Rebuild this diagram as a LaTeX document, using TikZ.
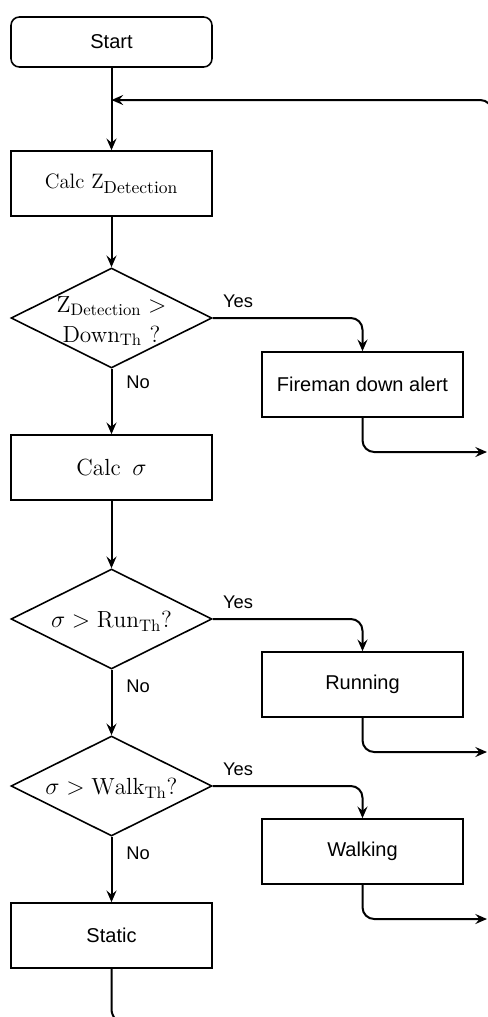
\documentclass[tikz,border=0pt]{standalone}
\usepackage{fontspec}
\newfontfamily\labelsans{Liberation Sans}
\usetikzlibrary{arrows.meta,shapes.geometric}
% larger subscripts for the formulas in the boxes
\DeclareMathSizes{14}{14}{10}{7}
\DeclareMathSizes{12.5}{12.5}{10.5}{7}
\begin{document}
\begin{tikzpicture}[x=0.6pt,y=-0.6pt,
  line/.style={line width=1.2pt},
  arr/.style={line, -{Stealth[length=7pt,width=6pt,inset=2.5pt]}, rounded corners=7pt},
  box/.style={draw, line width=0.95pt, minimum width=120.6pt, minimum height=39pt, inner sep=0pt},
  startbox/.style={box, rounded corners=5pt, minimum height=30pt},
  decision/.style={draw, line width=0.95pt, diamond, minimum width=120.6pt, minimum height=60pt, inner sep=0pt},
  sanstext/.style={font=\labelsans\fontsize{12}{14}\selectfont},
  mathbig/.style={font=\fontsize{14}{18}\selectfont, inner sep=0pt},
  mathsmall/.style={font=\fontsize{12.5}{14}\selectfont},
  edgelabel/.style={font=\labelsans\fontsize{11}{13}\selectfont, inner sep=0pt}]
\useasboundingbox (0,0) rectangle (488,1017);
\clip (0,0) rectangle (488,1017);

% main column
\node[startbox, sanstext] (start) at (111.5,42) {Start};
\node[box, mathsmall] (calcz) at (111.5,183.5) {Calc Z$_{\mathrm{Detection}}$};
\node[decision] (d1) at (111.5,318) {};
\node[mathbig, align=center] (d1t) at (111.5,321) {$\mathrm{Z_{Detection}} >$\\Down$_{\mathrm{Th}}$ ?};
\node[box, mathbig] (calcs) at (111.5,467.5) {Calc\ \,$\sigma$};
\node[decision] (d2) at (111.5,619) {};
\node[mathbig] (d2t) at (111.5,621) {$\sigma > \mathrm{Run_{Th}}$?};
\node[decision] (d3) at (111.5,786) {};
\node[mathbig] (d3t) at (111.5,788) {$\sigma > \mathrm{Walk_{Th}}$?};
\node[box, sanstext] (static) at (111.5,935.5) {Static};

% right column
\node[box, sanstext] (fire) at (362.5,384.5) {Fireman down alert};
\node[box, sanstext] (run) at (362.5,684.5) {Running};
\node[box, sanstext] (walk) at (362.5,851.5) {Walking};

% loose ends running off the sheet
\coordinate (join) at (111.5,100);
\coordinate (ret) at (492,160);
\coordinate (out1) at (487,452);
\coordinate (out2) at (487,752);
\coordinate (out3) at (487,919);
\coordinate (bottomend) at (220,1024);

% connectors
\draw[arr] (start) -- (calcz);
\draw[arr] (ret) |- (join);
\draw[arr] (calcz) -- (d1);
\draw[arr] (d1) -- (calcs);
\draw[arr] (d1.east) -| (fire.north);
\draw[arr] (fire.south) |- (out1);
\draw[arr] (calcs) -- (d2);
\draw[arr] (d2) -- (d3);
\draw[arr] (d2.east) -| (run.north);
\draw[arr] (run.south) |- (out2);
\draw[arr] (d3) -- (static);
\draw[arr] (d3.east) -| (walk.north);
\draw[arr] (walk.south) |- (out3);
\draw[line, rounded corners=9pt] (static.south) |- (bottomend);

% branch labels
\node[edgelabel] (y1) at (238,301) {Yes};
\node[edgelabel] (n1) at (138,382) {No};
\node[edgelabel] (y2) at (238,602) {Yes};
\node[edgelabel] (n2) at (138,686) {No};
\node[edgelabel] (y3) at (238,769) {Yes};
\node[edgelabel] (n3) at (138,853) {No};
\end{tikzpicture}
\end{document}
